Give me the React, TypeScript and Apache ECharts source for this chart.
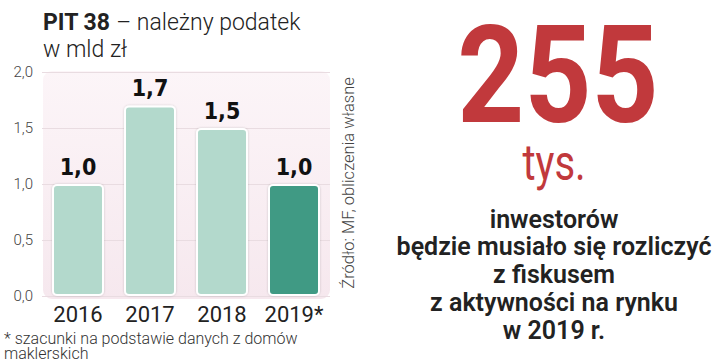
import React, { useEffect, useRef } from "react";
import * as echarts from "echarts";

const years = ["2016", "2017", "2018", "2019*"];
const values = [1.0, 1.7, 1.5, 1.0];
const barColors = ["#b3d9cc", "#b3d9cc", "#b3d9cc", "#3f9a84"];
const yTicks = { min: 0, max: 2, interval: 0.5 };
const titleBold = "PIT 38";
const titleRest = " – należny podatek";
const titleLine2 = "w mld zł";
const footnote = "* szacunki na podstawie danych z domów\nmaklerskich";
const sourceText = "Źródło: MF, obliczenia własne";
const bigNumber = "255";
const unitText = "tys.";
const bodyLines = [
  "inwestorów",
  "będzie musiało się rozliczyć",
  "z fiskusem",
  "z aktywności na rynku",
  "w 2019 r.",
];

export default function App() {
  const ref = useRef<HTMLDivElement>(null);
  useEffect(() => {
    document.body.style.margin = "0";
    const chart = echarts.init(ref.current!, null, { renderer: "svg" });
    const fmt = (v: number) => v.toFixed(1).replace(".", ",");
    chart.setOption({
      animation: false,
      backgroundColor: "#ffffff",
      grid: { left: 42, right: 390, top: 72, bottom: 66 },
      xAxis: {
        type: "category",
        data: years,
        axisLine: { show: false },
        axisTick: { show: false },
        axisLabel: {
          interval: 0,
          margin: 7,
          fontSize: 22,
          color: "#222",
          fontFamily: "Roboto",
        },
      },
      yAxis: {
        type: "value",
        min: yTicks.min,
        max: yTicks.max,
        interval: yTicks.interval,
        axisLine: { show: false },
        axisTick: { show: false },
        axisLabel: {
          margin: 9,
          fontSize: 15,
          color: "#444",
          fontFamily: "Roboto",
          fontWeight: 300,
          formatter: (v: number) => fmt(v),
        },
        splitLine: { lineStyle: { color: "#e9dce1", width: 1 } },
      },
      graphic: [
        {
          type: "rect",
          z: -10,
          shape: { x: 43, y: 71, width: 287, height: 228, r: 9 },
          style: {
            fill: new echarts.graphic.LinearGradient(0, 0, 0, 1, [
              { offset: 0, color: "#fcf5f8" },
              { offset: 1, color: "#f6e8ee" },
            ]),
          },
        },
        {
          type: "text",
          x: 43,
          y: 9,
          style: {
            text: `{b|${titleBold}}{n|${titleRest}}\n{n|${titleLine2}}`,
            rich: {
              b: { fontSize: 23, fontWeight: "bold", fontFamily: "Roboto", fill: "#222", lineHeight: 27 },
              n: { fontSize: 23, fontWeight: 300, fontFamily: "Roboto", fill: "#222", lineHeight: 27 },
            },
          },
        },
        {
          type: "text",
          x: 4,
          y: 331,
          style: {
            text: footnote,
            fontSize: 16,
            fontFamily: "Roboto",
            fontWeight: 300,
            fill: "#333",
            lineHeight: 15,
          },
        },
        {
          type: "text",
          x: 348,
          y: 183,
          rotation: Math.PI / 2,
          style: {
            text: sourceText,
            fontSize: 16.5,
            fontFamily: "Roboto",
            fontWeight: 300,
            fill: "#444",
            align: "center",
            verticalAlign: "middle",
          },
        },
        {
          type: "text",
          x: 558,
          y: 75,
          scaleX: 0.86,
          style: {
            text: bigNumber,
            fontSize: 136,
            lineHeight: 120,
            fontFamily: "Roboto",
            fontWeight: "bold",
            fill: "#c1393c",
            align: "center",
            verticalAlign: "middle",
          },
        },
        {
          type: "text",
          x: 554,
          y: 163,
          scaleX: 0.8,
          style: {
            text: unitText,
            fontSize: 50,
            fontFamily: "Roboto",
            fontWeight: 400,
            fill: "#c1393c",
            align: "center",
            verticalAlign: "middle",
          },
        },
        ...bodyLines.map((line, i) => ({
          type: "text",
          x: 554,
          y: 219 + i * 27.8,
          style: {
            text: line,
            fontSize: 25,
            fontFamily: "Roboto",
            fontWeight: 600,
            fill: "#222",
            align: "center",
            verticalAlign: "middle",
          },
        })),
      ],
      series: [
        {
          type: "bar",
          barWidth: 52,
          data: values.map((v, i) => ({
            value: v,
            itemStyle: { color: barColors[i] },
          })),
          itemStyle: {
            borderColor: "#ffffff",
            borderWidth: 2,
            borderRadius: 4,
            shadowColor: "rgba(0,0,0,0.18)",
            shadowBlur: 2,
          },
          label: {
            show: true,
            position: "top",
            distance: 6,
            fontSize: 23,
            fontWeight: "bold",
            fontFamily: "'DejaVu Sans Condensed', 'Liberation Sans Narrow', sans-serif",
            color: "#111",
            formatter: (p: any) => fmt(p.value),
          },
        },
      ],
    });
    return () => chart.dispose();
  }, []);
  return <div ref={ref} style={{ width: 720, height: 362, position: "absolute", left: 0, top: 0 }} />;
}
